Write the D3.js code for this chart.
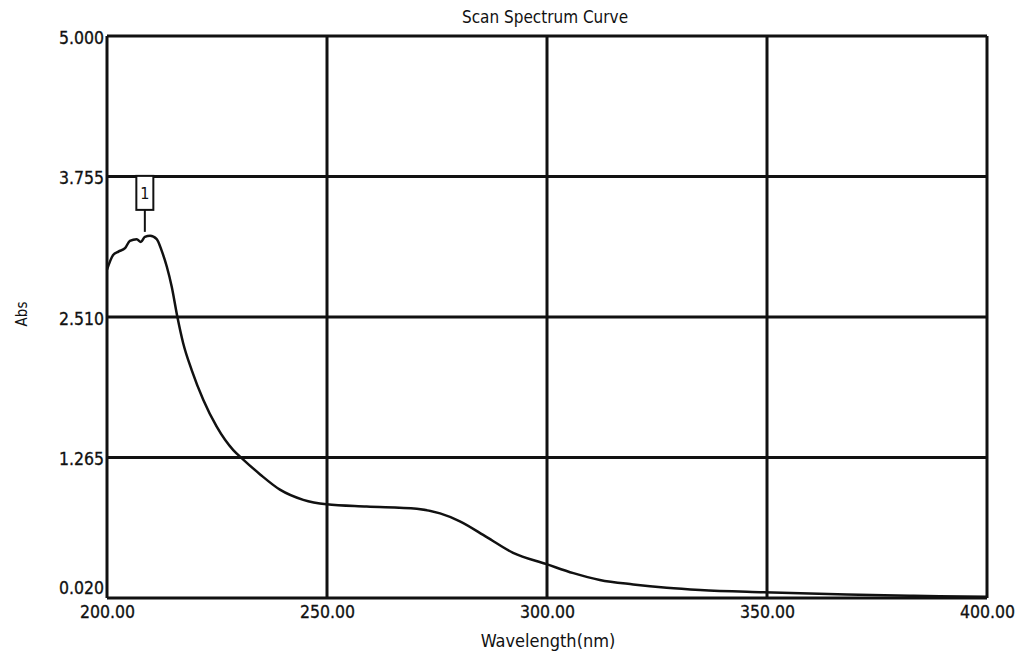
<!DOCTYPE html>
<html>
<head>
<meta charset="utf-8">
<script src="https://cdn.jsdelivr.net/npm/d3@7"></script>
<style>
    body { margin: 0; background: #fff; }
    svg { display: block; }
    text { font-family: "DejaVu Sans Condensed", "DejaVu Sans", sans-serif; fill: #111; }
</style>
</head>
<body>
<div id="chart"></div>
<script>

// Scan: wavelength (nm) and absorbance
const wavelength = [200, 201.4, 202.6, 204.1, 205.2, 206.75, 207.7, 208.6, 209.8, 211.3, 212.4, 213.6, 214.7, 216.0, 217.3, 219.25, 221.9, 224.9, 228.7, 230.6, 234.8, 239.3, 244.6, 249.9, 259.0, 270.4, 275.7, 280.2, 286.3, 292.3, 299.9, 306.0, 312.0, 319.6, 327.2, 334.8, 349.2, 368.1, 383.3, 400];
const absorbance = [2.93, 3.06, 3.09, 3.12, 3.185, 3.20, 3.175, 3.22, 3.23, 3.20, 3.10, 2.955, 2.78, 2.51, 2.28, 2.04, 1.775, 1.54, 1.33, 1.26, 1.115, 0.98, 0.89, 0.85, 0.83, 0.81, 0.77, 0.70, 0.56, 0.42, 0.32, 0.24, 0.18, 0.14, 0.11, 0.09, 0.07, 0.05, 0.04, 0.03];

const xTicks = [200, 250, 300, 350, 400];
const yTicks = [0.020, 1.265, 2.510, 3.755, 5.000];

// peak marker
const peakLabel = "1";
const peakWavelength = 208.6;
const peakAbs = 3.22;

const width = 1019;
const height = 656;

const margin = {
    top: 36,
    right: 32,
    bottom: 58,
    left: 107
};

const svg = d3.select("#chart").append("svg")
    .attr("width", width)
    .attr("height", height);

const x = d3.scaleLinear()
    .domain([200, 400])
    .range([margin.left, width - margin.right]);

const y = d3.scaleLinear()
    .domain([0.020, 5.000])
    .range([height - margin.bottom, margin.top]);

// title
svg.append("text")
    .attr("x", 545)
    .attr("y", 23)
    .attr("text-anchor", "middle")
    .style("font-size", "17px")
    .text("Scan Spectrum Curve");

// grid lines
svg.selectAll(".vgrid")
    .data(xTicks)
    .enter()
    .append("line")
    .attr("x1", d => x(d))
    .attr("x2", d => x(d))
    .attr("y1", y(5.000))
    .attr("y2", y(0.020))
    .style("stroke", "#111")
    .style("stroke-width", 3);

svg.selectAll(".hgrid")
    .data(yTicks)
    .enter()
    .append("line")
    .attr("x1", x(200))
    .attr("x2", x(400))
    .attr("y1", d => y(d))
    .attr("y2", d => y(d))
    .style("stroke", "#111")
    .style("stroke-width", 3);

// axes (labels only, grid does the lines)
const xAxis = svg.append("g")
    .attr("transform", `translate(0,${y(0.020)})`)
    .call(d3.axisBottom(x).tickValues(xTicks).tickSize(0).tickPadding(8).tickFormat(d3.format(".2f")));

xAxis.select(".domain").remove();
xAxis.selectAll("text")
    .style("font-size", "17.5px")
    .attr("fill", "#111")
    .style("stroke", "#111")
    .style("stroke-width", 0.3);

const yAxis = svg.append("g")
    .attr("transform", `translate(${x(200)},0)`)
    .call(d3.axisLeft(y).tickValues(yTicks).tickSize(0).tickPadding(3).tickFormat(d3.format(".3f")));

yAxis.select(".domain").remove();
yAxis.selectAll("text")
    .style("font-size", "17.5px")
    .attr("fill", "#111")
    .style("stroke", "#111")
    .style("stroke-width", 0.3)
    .attr("dy", d => d === 0.020 ? "-0.25em" : "0.4em");

// axis titles
svg.append("text")
    .attr("transform", `translate(27, 314) rotate(-90)`)
    .attr("text-anchor", "middle")
    .style("font-size", "15px")
    .text("Abs");

svg.append("text")
    .attr("x", 548)
    .attr("y", 647)
    .attr("text-anchor", "middle")
    .style("font-size", "18px")
    .text("Wavelength(nm)");

// spectrum curve
const data = wavelength.map((w, i) => ({ w: w, a: absorbance[i] }));

const line = d3.line()
    .x(d => x(d.w))
    .y(d => y(d.a))
    .curve(d3.curveMonotoneX);

svg.append("path")
    .datum(data)
    .attr("d", line)
    .style("fill", "none")
    .style("stroke", "#111")
    .style("stroke-width", 2.5);

// peak marker
const px = x(peakWavelength);
const py = y(peakAbs);

svg.append("line")
    .attr("x1", px)
    .attr("x2", px)
    .attr("y1", py - 5)
    .attr("y2", py - 27)
    .style("stroke", "#111")
    .style("stroke-width", 2);

svg.append("rect")
    .attr("x", px - 8.5)
    .attr("y", py - 61)
    .attr("width", 17)
    .attr("height", 34)
    .style("fill", "#fff")
    .style("stroke", "#111")
    .style("stroke-width", 2);

svg.append("text")
    .attr("x", px)
    .attr("y", py - 38)
    .attr("text-anchor", "middle")
    .style("font-size", "16px")
    .text(peakLabel);

</script>
</body>
</html>
